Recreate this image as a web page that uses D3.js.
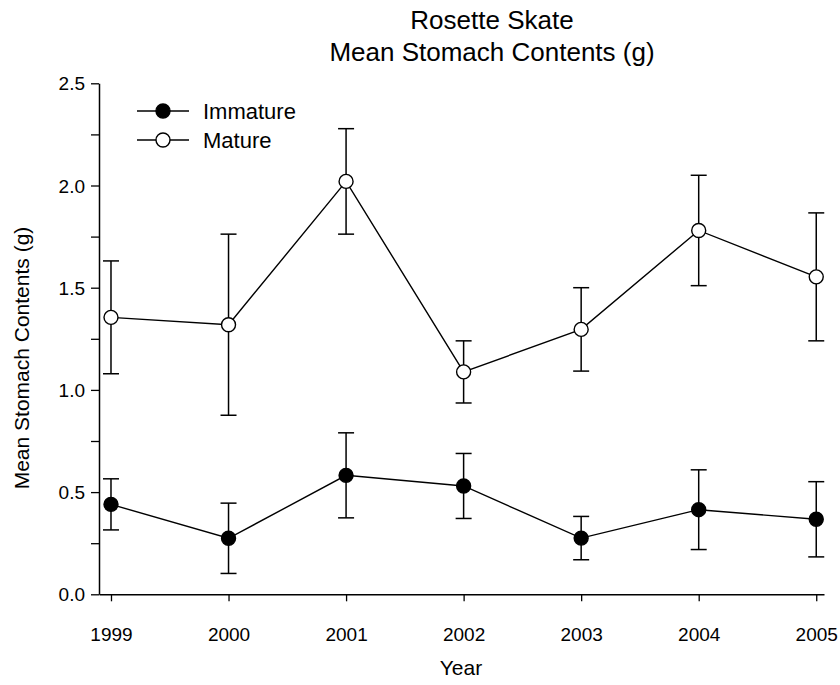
<!DOCTYPE html>
<html>
<head>
<meta charset="utf-8">
<script src="https://cdn.jsdelivr.net/npm/d3@7"></script>
<style>
  html, body { margin: 0; padding: 0; background: #fff; }
  svg { display: block; font-family: "Liberation Sans", Arial, Helvetica, sans-serif; }
</style>
</head>
<body>
<svg id="chart" width="840" height="685"></svg>
<script>
// ---- data ----
const years = [1999, 2000, 2001, 2002, 2003, 2004, 2005];
const immatureMean = [0.44, 0.274, 0.582, 0.53, 0.275, 0.414, 0.367];
const immatureErr  = [0.125, 0.172, 0.208, 0.159, 0.106, 0.195, 0.184];
const matureMean   = [1.355, 1.319, 2.02, 1.088, 1.296, 1.78, 1.553];
const matureErr    = [0.276, 0.443, 0.258, 0.152, 0.204, 0.27, 0.313];
const yTicks = [0, 0.25, 0.5, 0.75, 1.0, 1.25, 1.5, 1.75, 2.0, 2.25, 2.5];
const seriesNames = ["Immature", "Mature"];
const titleLines = ["Rosette Skate", "Mean Stomach Contents (g)"];
const xTitle = "Year";
const yTitle = "Mean Stomach Contents (g)";

// ---- layout ----
const svg = d3.select("#chart");
const plotLeft = 99, plotRight = 824, plotTop = 83.3, plotBottom = 594.3;

const x = d3.scaleLinear().domain([1998.898, 2005.066]).range([plotLeft, plotRight]);
const y = d3.scaleLinear().domain([0, 2.5]).range([plotBottom, plotTop]);

const series = [
  { name: seriesNames[0], mean: immatureMean, err: immatureErr, fill: "#000" },
  { name: seriesNames[1], mean: matureMean, err: matureErr, fill: "#fff" }
];

// axes
const yAxis = d3.axisLeft(y).tickValues(yTicks).tickSize(8).tickSizeOuter(0).tickPadding(6)
  .tickFormat(d => (Math.round(d * 100) % 50 === 0) ? d3.format(".1f")(d) : "");
const gy = svg.append("g").attr("transform", `translate(${plotLeft},0)`).call(yAxis);

const xAxis = d3.axisBottom(x).tickValues(years).tickSize(7).tickSizeOuter(0).tickPadding(26)
  .tickFormat(d3.format("d"));
const gx = svg.append("g").attr("transform", `translate(0,${plotBottom})`).call(xAxis);

[gx, gy].forEach(g => {
  g.selectAll("path.domain").attr("stroke", "#000").attr("stroke-width", 1.5);
  g.selectAll(".tick line").attr("stroke", "#000").attr("stroke-width", 1.3);
  g.selectAll(".tick text").attr("fill", "#000").style("font-size", "19px")
    .style("font-family", "'Liberation Sans', Arial, sans-serif");
});
gy.selectAll(".tick text").attr("dy", "0.35em");

// lines
const line = d3.line().x((d, i) => x(years[i])).y(d => y(d));
series.forEach(s => {
  svg.append("path").datum(s.mean).attr("d", line)
    .attr("fill", "none").attr("stroke", "#000").attr("stroke-width", 1.4);
});

// error bars
const capW = 8;
series.forEach(s => {
  const g = svg.append("g").attr("stroke", "#000").attr("stroke-width", 1.5);
  s.mean.forEach((m, i) => {
    const cx = x(years[i]);
    const y1 = y(m + s.err[i]), y2 = y(m - s.err[i]);
    g.append("line").attr("x1", cx).attr("x2", cx).attr("y1", y1).attr("y2", y2);
    g.append("line").attr("x1", cx - capW).attr("x2", cx + capW).attr("y1", y1).attr("y2", y1);
    g.append("line").attr("x1", cx - capW).attr("x2", cx + capW).attr("y1", y2).attr("y2", y2);
  });
});

// markers
series.forEach(s => {
  svg.append("g").selectAll("circle").data(s.mean).join("circle")
    .attr("cx", (d, i) => x(years[i])).attr("cy", d => y(d)).attr("r", 7)
    .attr("fill", s.fill).attr("stroke", "#000").attr("stroke-width", 1.4);
});

// legend
const leg = svg.append("g");
series.forEach((s, i) => {
  const ly = 111 + i * 29;
  leg.append("line").attr("x1", 137).attr("x2", 189).attr("y1", ly).attr("y2", ly)
    .attr("stroke", "#000").attr("stroke-width", 1.4);
  leg.append("circle").attr("cx", 163).attr("cy", ly).attr("r", 7)
    .attr("fill", s.fill).attr("stroke", "#000").attr("stroke-width", 1.4);
  leg.append("text").attr("x", 203).attr("y", ly).attr("dy", "0.35em")
    .style("font-size", "22px").text(s.name);
});

// titles
titleLines.forEach((t, i) => {
  svg.append("text").attr("x", 492).attr("y", 29 + i * 32).attr("text-anchor", "middle")
    .style("font-size", "26px").text(t);
});
svg.append("text").attr("x", 461).attr("y", 675).attr("text-anchor", "middle")
  .style("font-size", "21px").text(xTitle);
svg.append("text").attr("transform", "translate(29,358) rotate(-90)").attr("text-anchor", "middle")
  .style("font-size", "21px").text(yTitle);
</script>
</body>
</html>
